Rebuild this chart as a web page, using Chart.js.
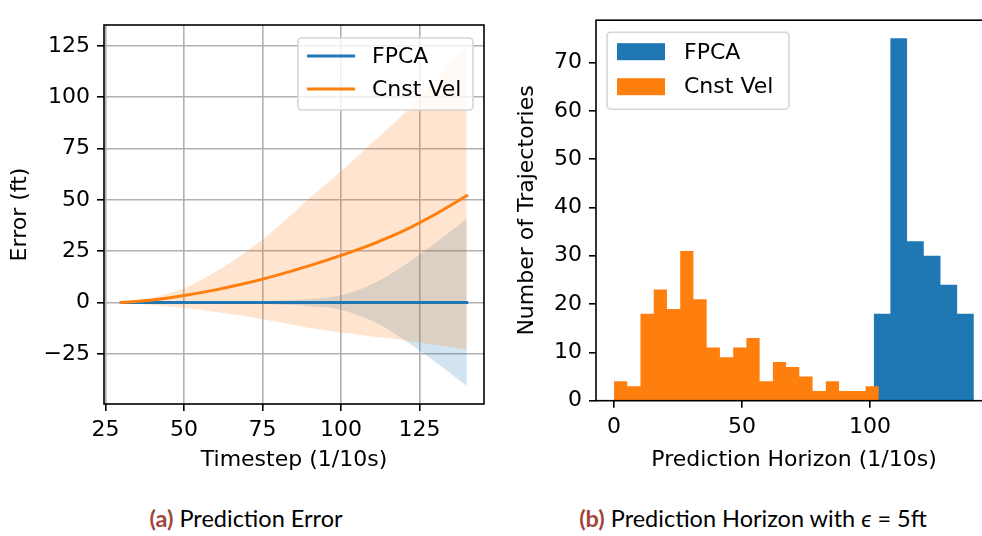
<!DOCTYPE html>
<html lang="en">
<head>
<meta charset="UTF-8">
<title>Prediction Error and Prediction Horizon</title>
<script src="https://cdn.jsdelivr.net/npm/chart.js"></script>
<style>
  html, body { margin: 0; padding: 0; background: #fff; overflow: hidden; }
  #wrap { position: relative; width: 982px; height: 536px; overflow: hidden; }
  canvas { position: absolute; top: 0; }
  #errCanvas { left: 0; }
  #horCanvas { left: 490px; }
  .caption { position: absolute; top: 504px; font-family: Lato, sans-serif; font-size: 23.5px; color: #000;
             white-space: nowrap; transform: translateX(-50%); }
  .caption b { color: #a2463a; }
</style>
</head>
<body>
<div id="wrap">
  <canvas id="errCanvas" width="490" height="480"></canvas>
  <canvas id="horCanvas" width="510" height="480"></canvas>
  <div class="caption" style="left:246px"><b>(a)</b> Prediction Error</div>
  <div class="caption" style="left:753px"><b>(b)</b> Prediction Horizon with <i>ϵ</i> = 5ft</div>
</div>

<script>
const blue = '#1f77b4';
const orange = '#ff7f0e';

// (a) prediction error vs timestep, mean with shaded band
const timesteps = [30, 40, 50, 60, 70, 80, 90, 100, 110, 120, 130, 140];
const fpcaMean  = [0, 0, 0, 0, 0, 0, 0, 0, 0, 0, 0, 0];
const fpcaUpper = [0, 0.1, 0.25, 0.4, 0.6, 0.9, 1.7, 3.6, 9, 18, 29, 41];
const fpcaLower = [0, -0.1, -0.25, -0.4, -0.6, -0.9, -1.7, -3.6, -9, -18, -29, -40.6];
const cvMean    = [0, 1.2, 3.4, 6.2, 9.5, 13.5, 18, 23, 28.5, 35, 43, 52];
const cvUpper   = [0, 2.5, 7, 15, 25, 37, 51, 64, 78, 92, 108, 125.5];
const cvLower   = [0, -1.2, -2.7, -4.6, -6.8, -9.5, -12.4, -14.6, -16.5, -18.3, -20.5, -22.8];
const errXTicks = [25, 50, 75, 100, 125];
const errYTicks = [-25, 0, 25, 50, 75, 100, 125];

// (b) histogram of prediction horizons
const cvBinStart = 0, cvBinWidth = 5.17;
const cvCounts = [4, 3, 18, 23, 19, 31, 21, 11, 9, 11, 13, 4, 8, 7, 5, 2, 4, 2, 2, 3];
const fpcaBinStart = 101.4, fpcaBinWidth = 6.52;
const fpcaCounts = [18, 75, 33, 30, 24, 18];
const horXTicks = [0, 50, 100];
const horYTicks = [0, 10, 20, 30, 40, 50, 60, 70];

Chart.defaults.font.family = 'DejaVu Sans';
Chart.defaults.font.size = 22;
Chart.defaults.color = '#000';

function pts(xs, ys) {
    return xs.map((x, i) => ({ x: x, y: ys[i] }));
}

function histSteps(start, width, counts) {
    const p = counts.map((c, i) => ({ x: start + i * width, y: c }));
    p.push({ x: start + counts.length * width, y: counts[counts.length - 1] });
    return p;
}

function fmt(v) {
    return String(v).replace('-', '\u2212');
}

function axis(min, max, tickVals, title, size, opts) {
    return {
        type: 'linear',
        min: min,
        max: max,
        afterBuildTicks: s => { s.ticks = tickVals.map(v => ({ value: v })); },
        afterFit: s => { if (s.isHorizontal()) s.height = size; else s.width = size; },
        border: { display: false },
        grid: {
            display: true,
            drawOnChartArea: opts.grid,
            color: '#b0b0b0',
            lineWidth: 1.6,
            drawTicks: true,
            tickLength: 7,
            tickWidth: 1.6,
            tickColor: '#000'
        },
        ticks: { padding: opts.pad, callback: v => fmt(v), maxRotation: 0, autoSkip: false },
        title: { display: true, text: title, padding: opts.titlePad }
    };
}

const framePlugin = {
    id: 'frame',
    afterDatasetsDraw(chart) {
        const { ctx, chartArea: a } = chart;
        ctx.save();
        ctx.strokeStyle = '#000';
        ctx.lineWidth = 1.6;
        ctx.strokeRect(a.left, a.top, a.right - a.left, a.bottom - a.top);
        ctx.restore();
    }
};

function legendBox(ctx, x, y, w, h) {
    ctx.beginPath();
    ctx.roundRect(x, y, w, h, 4);
    ctx.fillStyle = 'rgba(255,255,255,0.8)';
    ctx.fill();
    ctx.strokeStyle = '#d5d5d5';
    ctx.lineWidth = 1.6;
    ctx.stroke();
}

const errLegend = {
    id: 'errLegend',
    afterDraw(chart) {
        const { ctx, chartArea: a } = chart;
        const bx = a.right - 186, by = a.top + 13;
        ctx.save();
        legendBox(ctx, bx, by, 175, 72);
        [['FPCA', blue, 18], ['Cnst Vel', orange, 51]].forEach(([label, col, dy]) => {
            ctx.strokeStyle = col;
            ctx.lineWidth = 3;
            ctx.beginPath();
            ctx.moveTo(bx + 9, by + dy);
            ctx.lineTo(bx + 57, by + dy);
            ctx.stroke();
            ctx.fillStyle = '#000';
            ctx.font = '22px "DejaVu Sans"';
            ctx.textBaseline = 'middle';
            ctx.fillText(label, bx + 74, by + dy + 1);
        });
        ctx.restore();
    }
};

const horLegend = {
    id: 'horLegend',
    afterDraw(chart) {
        const { ctx, chartArea: a } = chart;
        const bx = a.left + 11, by = a.top + 12;
        ctx.save();
        legendBox(ctx, bx, by, 182, 77);
        [['FPCA', blue, 11, 20], ['Cnst Vel', orange, 46, 54]].forEach(([label, col, py, ty]) => {
            ctx.fillStyle = col;
            ctx.fillRect(bx + 10, by + py, 48, 17);
            ctx.fillStyle = '#000';
            ctx.font = '22px "DejaVu Sans"';
            ctx.textBaseline = 'middle';
            ctx.fillText(label, bx + 77, by + ty + 1);
        });
        ctx.restore();
    }
};

const lineBase = { pointRadius: 0, cubicInterpolationMode: 'monotone' };
const bandEdge = { ...lineBase, borderWidth: 0, borderColor: 'rgba(0,0,0,0)' };

new Chart(document.getElementById('errCanvas'), {
    type: 'line',
    data: {
        datasets: [
            { ...lineBase, label: 'Cnst Vel', data: pts(timesteps, cvMean), borderColor: orange, borderWidth: 3, borderCapStyle: 'square', fill: false },
            { ...lineBase, label: 'FPCA', data: pts(timesteps, fpcaMean), borderColor: blue, borderWidth: 3, borderCapStyle: 'square', fill: false },
            { ...bandEdge, data: pts(timesteps, cvUpper), fill: '+1', backgroundColor: 'rgba(255,127,14,0.2)' },
            { ...bandEdge, data: pts(timesteps, cvLower), fill: false },
            { ...bandEdge, data: pts(timesteps, fpcaUpper), fill: '+1', backgroundColor: 'rgba(31,119,180,0.2)' },
            { ...bandEdge, data: pts(timesteps, fpcaLower), fill: false }
        ]
    },
    options: {
        responsive: false,
        animation: false,
        layout: { padding: { left: 0, right: 6, top: 25, bottom: 0 } },
        plugins: { legend: { display: false }, tooltip: { enabled: false } },
        scales: {
            x: axis(24.5, 145.5, errXTicks, 'Timestep (1/10s)', 76, { grid: true, pad: 6, titlePad: { top: 0, bottom: 7 } }),
            y: axis(-49.4, 135.2, errYTicks, 'Error (ft)', 104, { grid: true, pad: 7, titlePad: { top: 7, bottom: 0 } })
        }
    },
    plugins: [framePlugin, errLegend]
});

new Chart(document.getElementById('horCanvas'), {
    type: 'line',
    data: {
        datasets: [
            { label: 'Cnst Vel', data: histSteps(cvBinStart, cvBinWidth, cvCounts), stepped: true, pointRadius: 0,
              borderWidth: 0, borderColor: 'rgba(0,0,0,0)', backgroundColor: orange, fill: 'origin' },
            { label: 'FPCA', data: histSteps(fpcaBinStart, fpcaBinWidth, fpcaCounts), stepped: true, pointRadius: 0,
              borderWidth: 0, borderColor: 'rgba(0,0,0,0)', backgroundColor: blue, fill: 'origin' }
        ]
    },
    options: {
        responsive: false,
        animation: false,
        layout: { padding: { left: 0, right: 8, top: 8, bottom: 0 } },
        plugins: { legend: { display: false }, tooltip: { enabled: false } },
        scales: {
            x: axis(-7.03, 147.6, horXTicks, 'Prediction Horizon (1/10s)', 79.3, { grid: false, pad: 6, titlePad: { top: 0, bottom: 7 } }),
            y: axis(0, 78.75, horYTicks, 'Number of Trajectories', 106, { grid: false, pad: 7, titlePad: { top: 24, bottom: 0 } })
        }
    },
    plugins: [framePlugin, horLegend]
});
</script>
</body>
</html>
